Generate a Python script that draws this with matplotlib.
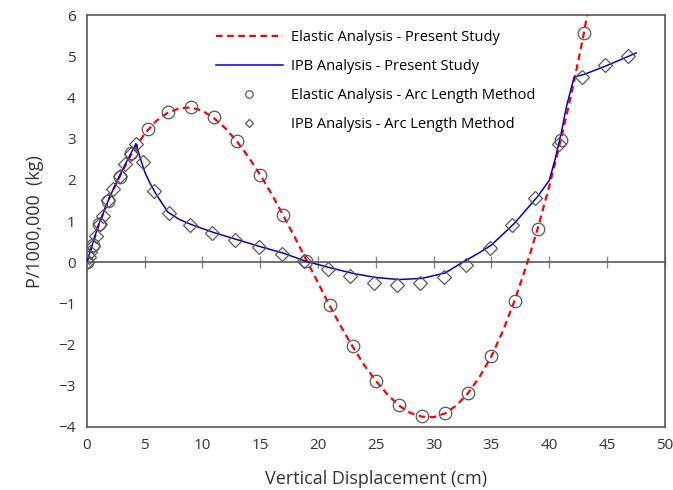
import numpy as np
import matplotlib.pyplot as plt

# Elastic Analysis - Present Study (red dashed)
el_x = [0, 1, 2, 3, 4, 5, 6, 7, 8, 9, 10, 11, 12, 13, 14, 15, 16, 17, 18, 19, 20,
        21, 22, 23, 24, 25, 26, 27, 28, 29, 30, 31, 32, 33, 34, 35, 36, 37, 38,
        39, 40, 41, 42, 43, 43.3]
el_y = [0, 0.88, 1.6, 2.17, 2.7, 3.12, 3.43, 3.63, 3.74, 3.76, 3.68, 3.5, 3.25,
        2.93, 2.55, 2.12, 1.65, 1.13, 0.6, 0.05, -0.5, -1.05, -1.57, -2.05, -2.5,
        -2.88, -3.21, -3.48, -3.66, -3.75, -3.76, -3.67, -3.47, -3.17, -2.77,
        -2.28, -1.66, -0.93, -0.1, 0.82, 1.85, 2.97, 4.2, 5.57, 6.05]

# IPB Analysis - Present Study (blue)
ipb_x = [0, 1, 2, 3, 4.25, 4.6, 5.0, 5.5, 6, 7, 8, 9, 11, 13, 15, 17, 19, 21, 23,
         25, 27, 29, 31, 32.5, 34, 35, 37, 39, 40, 40.5, 41, 41.5, 42.15, 43, 45, 47.5]
ipb_y = [0, 0.9, 1.6, 2.2, 2.88, 2.55, 2.2, 1.9, 1.65, 1.22, 1.04, 0.92, 0.72,
         0.55, 0.38, 0.22, 0.02, -0.13, -0.27, -0.37, -0.42, -0.39, -0.26, 0,
         0.24, 0.42, 0.95, 1.6, 1.99, 2.5, 3.1, 3.8, 4.5, 4.56, 4.78, 5.08]

# Elastic Analysis - Arc Length Method (circles)
arc_el_x = [0, 0.5, 1.05, 1.85, 2.85, 3.85, 5.3, 7, 9, 11, 13, 15, 17, 19, 21, 23,
            25, 27, 29, 31, 33, 35, 37, 39, 41, 43]
arc_el_y = [0, 0.41, 0.93, 1.48, 2.08, 2.66, 3.23, 3.64, 3.76, 3.52, 2.94, 2.11,
            1.14, 0.02, -1.04, -2.04, -2.89, -3.47, -3.74, -3.67, -3.18, -2.28,
            -0.95, 0.82, 2.98, 5.57]

# IPB Analysis - Arc Length Method (diamonds)
arc_ipb_x = [0, 0.15, 0.3, 0.55, 0.83, 1.12, 1.4, 1.84, 2.27, 2.84, 3.3, 3.8,
             4.28, 4.9, 5.78, 7.1, 8.9, 10.85, 12.85, 14.86, 16.86, 18.8, 20.86,
             22.8, 24.8, 26.8, 28.8, 30.86, 32.8, 34.85, 36.8, 38.8, 40.85, 42.85,
             44.8, 46.8]
arc_ipb_y = [0, 0.12, 0.25, 0.4, 0.65, 0.92, 1.13, 1.5, 1.77, 2.1, 2.38, 2.62,
             2.88, 2.43, 1.72, 1.2, 0.91, 0.7, 0.53, 0.36, 0.21, 0.03, -0.17,
             -0.34, -0.5, -0.56, -0.5, -0.36, -0.06, 0.35, 0.9, 1.57, 2.88, 4.51,
             4.78, 5.0]

plt.rcParams['font.family'] = ['Open Sans', 'DejaVu Sans']
grey = '#595959'

fig = plt.figure(figsize=(6.73, 4.9), dpi=100)
ax = fig.add_axes([0.129, 0.1286, 0.859, 0.8404])

ax.plot(el_x, el_y, color='#ff0000', lw=1.6, ls=(0, (3, 2)),
        label='Elastic Analysis - Present Study', zorder=3)
ax.plot(ipb_x, ipb_y, color='#0000cc', lw=1.1,
        label='IPB Analysis - Present Study', zorder=3)
ax.plot(arc_el_x, arc_el_y, ls='none', marker='o', ms=9, mfc='none',
        mec=grey, mew=0.9, label='Elastic Analysis - Arc Length Method', zorder=4)
ax.plot(arc_ipb_x, arc_ipb_y, ls='none', marker='D', ms=7, mfc='none',
        mec=grey, mew=0.9, label='IPB Analysis - Arc Length Method', zorder=4)

ax.set_xlim(0, 50)
ax.set_ylim(-4, 6)
ax.set_xticks(np.arange(0, 51, 5))
ax.set_yticks(np.arange(-4, 7, 1))
ax.tick_params(axis='both', length=0, labelsize=11, colors='#333333', pad=8)
for s in ax.spines.values():
    s.set_color(grey)
    s.set_linewidth(1.2)

# horizontal axis crossing at zero with tick marks
zero = ax.secondary_xaxis(0.4)
zero.set_xticks(np.arange(0, 51, 5))
zero.tick_params(direction='inout', length=8, width=1, color='#888888',
                 labelbottom=False)
zero.spines['bottom'].set_color(grey)
zero.spines['bottom'].set_linewidth(1.2)

ax.set_xlabel('Vertical Displacement (cm)', fontsize=13, color='#333333', labelpad=12)
ax.set_ylabel('P/1000,000  (kg)', fontsize=13, color='#333333', labelpad=10)

ax.legend(loc='upper left', bbox_to_anchor=(0.2, 0.995), frameon=False,
          fontsize=10.5, handlelength=4.6, markerscale=0.6, labelspacing=0.95,
          handletextpad=0.6)

fig.savefig('out.png', dpi=100)
